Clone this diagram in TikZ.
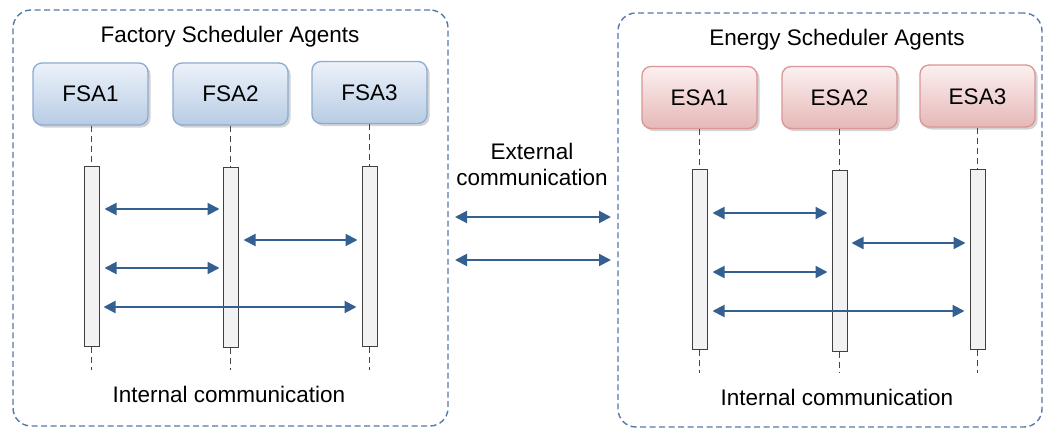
\documentclass[tikz,border=0pt]{standalone}
\usepackage{fontspec}
\setmainfont{Liberation Sans}
\usetikzlibrary{arrows.meta,shadows}
\definecolor{contblue}{RGB}{84,122,168}
\definecolor{msgblue}{RGB}{51,95,145}
\definecolor{fsatop}{RGB}{236,242,250}
\definecolor{fsabot}{RGB}{184,204,228}
\definecolor{fsaline}{RGB}{142,170,208}
\definecolor{esatop}{RGB}{252,240,240}
\definecolor{esabot}{RGB}{229,184,183}
\definecolor{esaline}{RGB}{217,150,148}
\definecolor{barfill}{RGB}{242,242,242}
\definecolor{barline}{RGB}{64,64,64}
\definecolor{lifegray}{RGB}{70,70,70}
\tikzset{
  container/.style={draw=contblue, line width=1.4pt, dash pattern=on 6pt off 3.5pt,
    rounded corners=18pt, inner sep=0pt},
  agentbox/.style={rectangle, rounded corners=9pt, line width=1.3pt,
    minimum width=115pt, minimum height=62pt, inner sep=0pt,
    text height=16pt, text depth=0pt,
    font=\fontsize{22.5}{26}\selectfont,
    drop shadow={shadow xshift=2.5pt, shadow yshift=-2.5pt, opacity=0.35, fill=gray}},
  fsa/.style={agentbox, draw=fsaline, top color=fsatop, bottom color=fsabot},
  esa/.style={agentbox, draw=esaline, top color=esatop, bottom color=esabot},
  actbar/.style={rectangle, draw=barline, fill=barfill, line width=1pt,
    minimum width=15pt, minimum height=180pt, inner sep=0pt},
  lifeline/.style={draw=lifegray, line width=1.2pt, dash pattern=on 6pt off 4pt},
  msg/.style={draw=msgblue, line width=2pt, {Triangle[length=12pt,width=12pt]}-{Triangle[length=12pt,width=12pt]}},
  lbl/.style={font=\fontsize{22.5}{26}\selectfont, anchor=base, inner sep=0pt}
}
\begin{document}
\begin{tikzpicture}[x=1pt,y=-1pt]
\useasboundingbox (0,0) rectangle (1045,428);
% containers
\node[container, minimum width=435pt, minimum height=416pt] (fbox) at (230.5,218) {};
\node[container, minimum width=424pt, minimum height=414pt] (ebox) at (830,220) {};
% titles
\node[lbl] (ftitle) at (230,43) {Factory Scheduler Agents};
\node[lbl] (etitle) at (837,46) {Energy Scheduler Agents};
% agents
\node[fsa] (f1) at (90.5,94) {FSA1};
\node[fsa] (f2) at (230.5,94) {FSA2};
\node[fsa] (f3) at (369.5,92.5) {FSA3};
\node[esa] (e1) at (699.5,97.5) {ESA1};
\node[esa] (e2) at (839.5,97.5) {ESA2};
\node[esa] (e3) at (977.5,96) {ESA3};
% activation bars
\node[actbar] (fb1) at (91.5,256) {};
\node[actbar] (fb2) at (230.5,257) {};
\node[actbar] (fb3) at (369.5,256) {};
\node[actbar] (eb1) at (699.5,259) {};
\node[actbar, minimum height=181pt] (eb2) at (839.5,260.5) {};
\node[actbar] (eb3) at (977.5,259) {};
% lifeline ends
\coordinate (fl1) at (91.5,370);
\coordinate (fl2) at (230.5,370);
\coordinate (fl3) at (369.5,370);
\coordinate (el1) at (699.5,373);
\coordinate (el2) at (839.5,373);
\coordinate (el3) at (977.5,373);
% lifelines
\foreach \a/\b/\c in {f1/fb1/fl1,f2/fb2/fl2,f3/fb3/fl3,e1/eb1/el1,e2/eb2/el2,e3/eb3/el3}{
  \draw[lifeline] (\b.north |- \a.south) -- (\b.north);
  \draw[lifeline] (\b.south) -- (\c);
}
% internal messages left
\draw[msg] ([xshift=5pt]fb1.east |- 0,209) -- ([xshift=-3pt]fb2.west |- 0,209);
\draw[msg] ([xshift=5pt]fb2.east |- 0,240) -- ([xshift=-4pt]fb3.west |- 0,240);
\draw[msg] ([xshift=5pt]fb1.east |- 0,268) -- ([xshift=-3pt]fb2.west |- 0,268);
\draw[msg] ([xshift=4pt]fb1.east |- 0,307) -- ([xshift=-5pt]fb3.west |- 0,307);
% internal messages right
\draw[msg] ([xshift=5pt]eb1.east |- 0,213) -- ([xshift=-4pt]eb2.west |- 0,213);
\draw[msg] ([xshift=4pt]eb2.east |- 0,243) -- ([xshift=-4pt]eb3.west |- 0,243);
\draw[msg] ([xshift=5pt]eb1.east |- 0,272) -- ([xshift=-4pt]eb2.west |- 0,272);
\draw[msg] ([xshift=5pt]eb1.east |- 0,311) -- ([xshift=-5pt]eb3.west |- 0,311);
% external messages
\coordinate (x1a) at (455,217);
\coordinate (x1b) at (611,217);
\coordinate (x2a) at (455,260);
\coordinate (x2b) at (611,260);
\draw[msg] (x1a) -- (x1b);
\draw[msg] (x2a) -- (x2b);
% labels
\node[lbl] (ext1) at (532,159) {External};
\node[lbl] (ext2) at (532,185) {communication};
\node[lbl] (fint) at (229,402.5) {Internal communication};
\node[lbl] (eint) at (837,405) {Internal communication};
\end{tikzpicture}
\end{document}
